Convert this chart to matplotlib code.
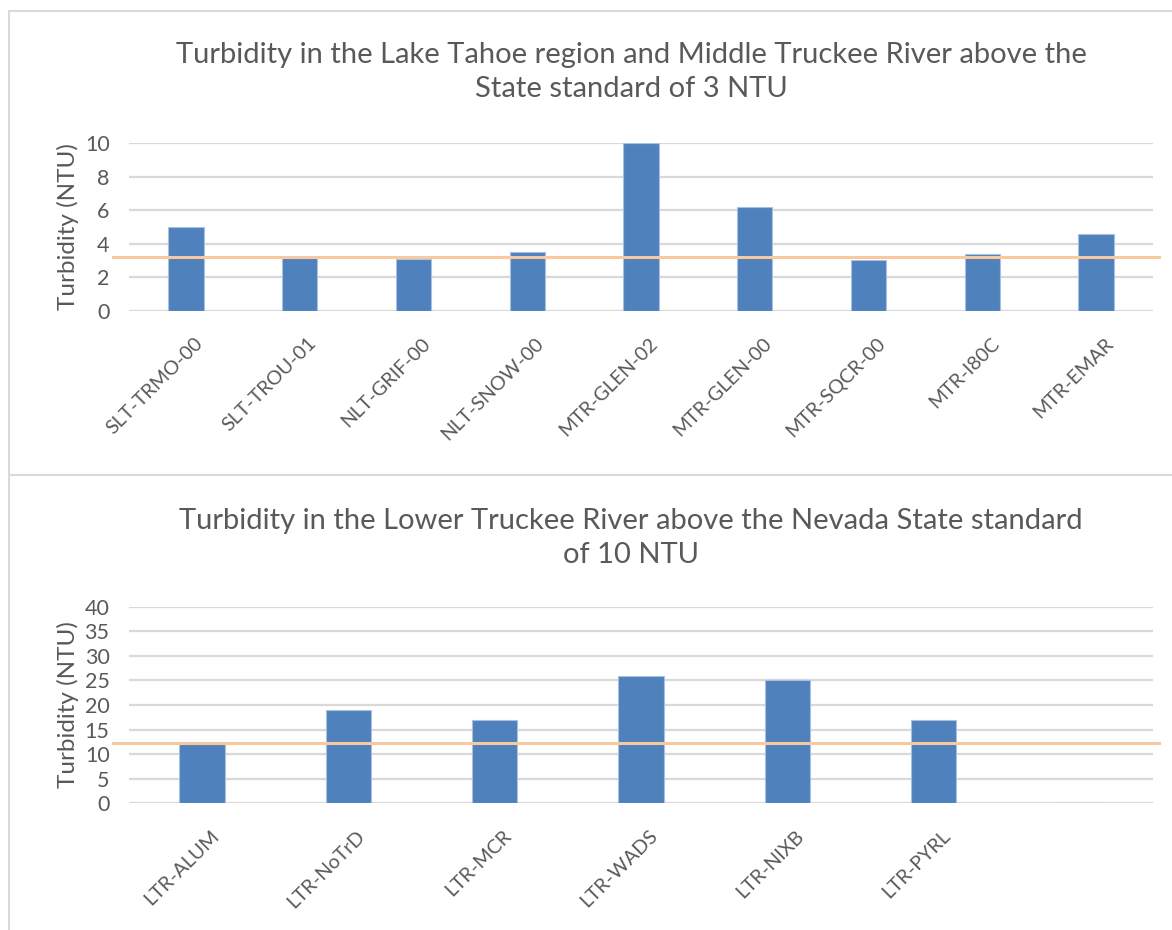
import matplotlib
matplotlib.use("Agg")
import matplotlib.pyplot as plt
import matplotlib.transforms as mtransforms
from matplotlib.lines import Line2D

# data
top_sites = ['SLT-TRMO-00', 'SLT-TROU-01', 'NLT-GRIF-00', 'NLT-SNOW-00', 'MTR-GLEN-02',
             'MTR-GLEN-00', 'MTR-SQCR-00', 'MTR-I80C', 'MTR-EMAR']
top_vals = [5.0, 3.15, 3.1, 3.5, 10.0, 6.2, 3.05, 3.4, 4.6]
top_line = 3.2   # drawn standard line (as placed in the original)
top_ticks = [0, 2, 4, 6, 8, 10]

bot_sites = ['LTR-ALUM', 'LTR-NoTrD', 'LTR-MCR', 'LTR-WADS', 'LTR-NIXB', 'LTR-PYRL', '']
bot_vals = [12, 19, 17, 26, 25, 17, 0]
bot_line = 12.2
bot_ticks = [0, 5, 10, 15, 20, 25, 30, 35, 40]

title_top = "Turbidity in the Lake Tahoe region and Middle Truckee River above the\nState standard of 3 NTU"
title_bot = "Turbidity in the Lower Truckee River above the Nevada State standard\nof 10 NTU"

W, H = 1172, 930
plt.rcParams['font.family'] = ['Lato', 'DejaVu Sans']
txt = '#595959'
bar_c = '#4F81BD'
line_c = '#F8C89E'
grid_c = '#D9D9D9'

fig = plt.figure(figsize=(W / 100, H / 100), dpi=100)
fig.patch.set_facecolor('white')

def px(x0, y0, x1, y1):
    # pixel box -> figure fraction rect
    return [x0 / W, 1 - y1 / H, (x1 - x0) / W, (y1 - y0) / H]

# chart frames
for (x0, y0, x1, y1) in [(9, 11, 1180, 475), (9, 475, 1180, 940)]:
    fig.add_artist(plt.Rectangle((x0 / W, 1 - y1 / H), (x1 - x0) / W, (y1 - y0) / H,
                                 transform=fig.transFigure, fill=False,
                                 edgecolor='#D9D9D9', linewidth=1.5))


def draw(rect, sites, vals, ticks, std, title, title_y):
    ax = fig.add_axes(rect)
    xs = range(len(sites))
    ax.bar(xs, vals, width=0.31, color=bar_c, edgecolor='#A9C1E0', linewidth=0.8, zorder=3)
    ax.set_xlim(-0.5, len(sites) - 0.5)
    ax.set_ylim(ticks[0], ticks[-1])
    ax.set_yticks(ticks)
    ax.yaxis.grid(True, color=grid_c, linewidth=1.6, zorder=0)
    ax.set_axisbelow(True)
    for s in ax.spines.values():
        s.set_visible(False)
    ax.tick_params(axis='both', length=0, labelcolor=txt)
    ax.tick_params(axis='y', pad=14, labelsize=15.5)
    ax.set_xticks(list(xs))
    ax.set_xticklabels(sites, rotation=45, ha='right', rotation_mode='anchor', fontsize=14.2)
    ax.tick_params(axis='x', pad=17)
    shift = mtransforms.ScaledTranslation(8 / 100, 0, fig.dpi_scale_trans)
    for lab in ax.get_xticklabels():
        lab.set_transform(lab.get_transform() + shift)
    ax.set_ylabel('Turbidity (NTU)', fontsize=17.5, color=txt, labelpad=4)
    trans = mtransforms.blended_transform_factory(fig.transFigure, ax.transData)
    fig.add_artist(Line2D([113 / W, 1159 / W], [std, std], transform=trans,
                          color=line_c, linewidth=2.2, zorder=5))
    fig.text(631 / W, 1 - title_y / H, title, ha='center', va='center',
             fontsize=21, color=txt, linespacing=1.35)
    return ax

draw(px(129, 143, 1153, 311), top_sites, top_vals, top_ticks, top_line, title_top, 72)
draw(px(129, 606.7, 1153, 803.3), bot_sites, bot_vals, bot_ticks, bot_line, title_bot, 538)

fig.savefig('out.png', dpi=100, facecolor='white')
